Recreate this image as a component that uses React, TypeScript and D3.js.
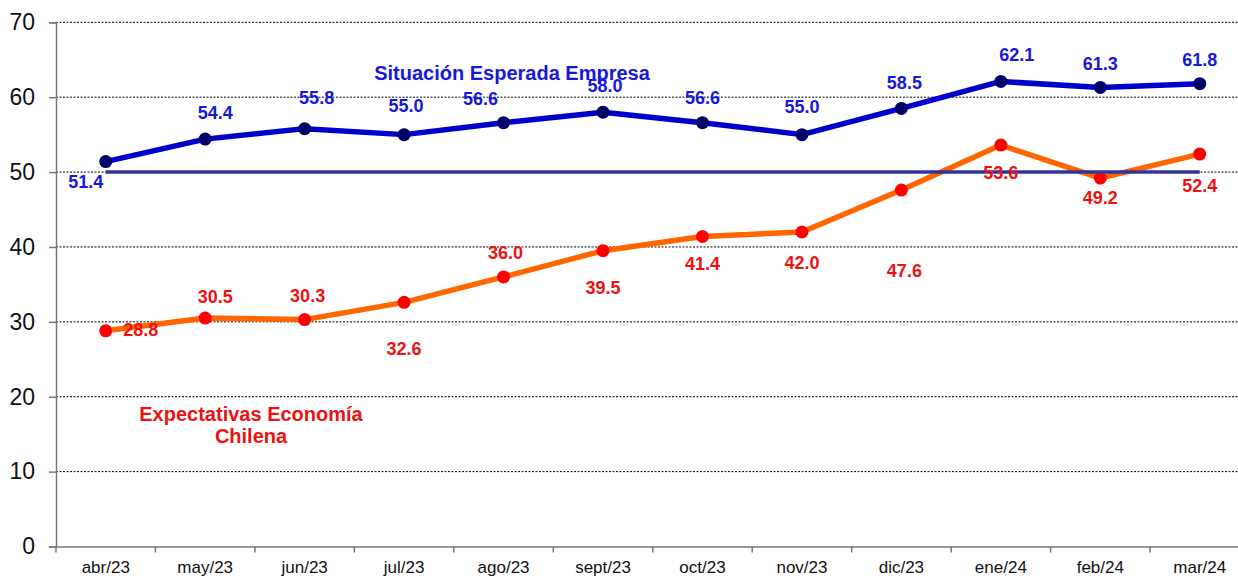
import React, { useEffect, useRef } from 'react';
import * as d3 from 'd3';

const months = ['abr/23', 'may/23', 'jun/23', 'jul/23', 'ago/23', 'sept/23', 'oct/23', 'nov/23', 'dic/23', 'ene/24', 'feb/24', 'mar/24'];
const empresa = [51.4, 54.4, 55.8, 55.0, 56.6, 58.0, 56.6, 55.0, 58.5, 62.1, 61.3, 61.8];
const economia = [28.8, 30.5, 30.3, 32.6, 36.0, 39.5, 41.4, 42.0, 47.6, 53.6, 49.2, 52.4];
const yTicks = [0, 10, 20, 30, 40, 50, 60, 70];
const neutral = 50;

// label offsets (px) relative to each point
const empresaLabelOff = [[-20, 20], [10, -27], [12, -31], [2, -29], [-23, -24], [2, -27], [0, -25], [0, -28], [3, -26], [16, -27], [0, -24], [0, -24]];
const economiaLabelOff = [[35, -1], [10, -22], [3, -24], [0, 46], [2, -24], [0, 37], [0, 27], [0, 31], [3, 80], [0, 27], [0, 19], [0, 31]];

export default function App() {
  const svgRef = useRef<SVGSVGElement>(null);

  useEffect(() => {
    const W = 1238, H = 578;
    const svg = d3.select(svgRef.current);
    svg.selectAll('*').remove();
    svg.attr('width', W).attr('height', H);

    const x = d3.scaleBand<string>().domain(months).range([56, 1249.5]);
    const cx = (m: string) => (x(m) as number) + x.bandwidth() / 2;
    const y = d3.scaleLinear().domain([0, 70]).range([546.5, 22.3]);

    const font = 'Arial, "Liberation Sans", sans-serif';

    // grid lines
    svg.append('g')
      .selectAll('line')
      .data(yTicks.filter(t => t > 0))
      .join('line')
      .attr('x1', 56).attr('x2', W)
      .attr('y1', d => y(d)).attr('y2', d => y(d))
      .attr('stroke', '#000').attr('stroke-width', 1).attr('stroke-dasharray', '2,1.5');

    // y axis
    const yAxis = svg.append('g').attr('transform', 'translate(56,0)')
      .call(d3.axisLeft(y).tickValues(yTicks).tickSize(7).tickPadding(14));
    yAxis.select('.domain').attr('stroke', '#777').attr('stroke-width', 1.5);
    yAxis.selectAll('.tick line').attr('stroke', '#777').attr('stroke-width', 1.5);
    yAxis.selectAll('text').attr('font-family', font).attr('font-size', 23).attr('fill', '#111');

    // x axis
    const xAxis = svg.append('g').attr('transform', `translate(0,${y(0)})`)
      .call(d3.axisBottom(x).tickSize(0).tickPadding(14));
    xAxis.select('.domain').attr('stroke', '#777').attr('stroke-width', 1.5);
    xAxis.selectAll('text').attr('font-family', font).attr('font-size', 17).attr('fill', '#111');
    svg.append('g')
      .selectAll('line')
      .data(months)
      .join('line')
      .attr('x1', d => x(d) as number).attr('x2', d => x(d) as number)
      .attr('y1', y(0)).attr('y2', y(0) + 6)
      .attr('stroke', '#777').attr('stroke-width', 1.5);

    const line = d3.line<number>().x((_, i) => cx(months[i])).y(d => y(d));

    // orange series
    svg.append('path').datum(economia)
      .attr('d', line).attr('fill', 'none')
      .attr('stroke', '#FF6600').attr('stroke-width', 5.5).attr('stroke-linejoin', 'round');
    svg.append('g').selectAll('circle').data(economia).join('circle')
      .attr('cx', (_, i) => cx(months[i])).attr('cy', d => y(d)).attr('r', 6.5).attr('fill', '#FF0000');

    // 50 line
    svg.append('line')
      .attr('x1', cx(months[0])).attr('x2', cx(months[months.length - 1]))
      .attr('y1', y(neutral)).attr('y2', y(neutral))
      .attr('stroke', '#333399').attr('stroke-width', 3.5);

    // blue series
    svg.append('path').datum(empresa)
      .attr('d', line).attr('fill', 'none')
      .attr('stroke', '#0000CC').attr('stroke-width', 5.5).attr('stroke-linejoin', 'round');
    svg.append('g').selectAll('circle').data(empresa).join('circle')
      .attr('cx', (_, i) => cx(months[i])).attr('cy', d => y(d)).attr('r', 6.5).attr('fill', '#000066');

    // data labels
    svg.append('g').selectAll('text').data(empresa).join('text')
      .attr('x', (_, i) => cx(months[i]) + empresaLabelOff[i][0])
      .attr('y', (d, i) => y(d) + empresaLabelOff[i][1])
      .attr('dy', '0.36em')
      .attr('text-anchor', 'middle')
      .attr('font-family', font).attr('font-size', 18).attr('font-weight', 'bold')
      .attr('fill', '#1717DD')
      .text(d => d.toFixed(1));

    svg.append('g').selectAll('text').data(economia).join('text')
      .attr('x', (_, i) => cx(months[i]) + economiaLabelOff[i][0])
      .attr('y', (d, i) => y(d) + economiaLabelOff[i][1])
      .attr('dy', '0.36em')
      .attr('text-anchor', 'middle')
      .attr('font-family', font).attr('font-size', 18).attr('font-weight', 'bold')
      .attr('fill', '#EE1111')
      .text(d => d.toFixed(1));

    // series titles
    svg.append('text')
      .attr('x', 512).attr('y', 80)
      .attr('text-anchor', 'middle')
      .attr('font-family', font).attr('font-size', 20).attr('font-weight', 'bold')
      .attr('fill', '#1717DD')
      .text('Situación Esperada Empresa');

    const t = svg.append('text')
      .attr('x', 251).attr('y', 421)
      .attr('text-anchor', 'middle')
      .attr('font-family', font).attr('font-size', 20).attr('font-weight', 'bold')
      .attr('fill', '#EE1111');
    t.append('tspan').attr('x', 251).text('Expectativas Economía');
    t.append('tspan').attr('x', 251).attr('dy', 22).text('Chilena');
  }, []);

  return (
    <div style={{ position: 'absolute', left: 0, top: 0, width: 1238, height: 578, background: '#fff', overflow: 'hidden' }}>
      <svg ref={svgRef}></svg>
    </div>
  );
}
